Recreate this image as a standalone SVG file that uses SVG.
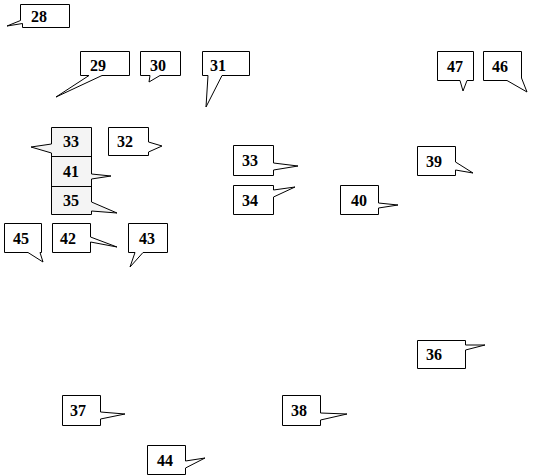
<svg xmlns="http://www.w3.org/2000/svg" width="533" height="476" viewBox="0 0 533 476">
<style>
.c{fill:#fff;stroke:#000;stroke-width:1;stroke-linejoin:miter}
.g{fill:#f4f4f4;stroke:#000;stroke-width:1}
.d{stroke:#000;stroke-width:1}
text{font-family:"Liberation Serif","Times New Roman",serif;font-weight:bold;font-size:16px;text-anchor:middle;fill:#000}
</style>
<rect width="533" height="476" fill="#fff"/>
<g id="connectors"></g>
<g id="n28"><polygon class="c" points="20.5,4.5 69.5,4.5 69.5,27.5 22.5,27.5 22.5,23.5 7,26 20.5,20.5"/><text x="39" y="21.5">28</text></g>
<g id="n29"><polygon class="c" points="80.5,51.5 129.5,51.5 129.5,75.5 102,75.5 56,97 89,75.5 80.5,75.5"/><text x="98" y="70.5">29</text></g>
<g id="n30"><polygon class="c" points="140.5,51.5 180.5,51.5 180.5,75.5 160,75.5 149,82 150,75.5 140.5,75.5"/><text x="158" y="70.5">30</text></g>
<g id="n31"><polygon class="c" points="202.5,51.5 249.5,51.5 249.5,75.5 222,75.5 206,107 208,75.5 202.5,75.5"/><text x="218" y="70.5">31</text></g>
<g id="n47"><polygon class="c" points="437.5,51.5 473.5,51.5 473.5,80.5 467,80.5 463,91 460,80.5 437.5,80.5"/><text x="455" y="71.5">47</text></g>
<g id="n46"><polygon class="c" points="483.5,51.5 521.5,51.5 521.5,78 527,92 507,80.5 483.5,80.5"/><text x="500" y="71.5">46</text></g>
<g id="stack">
<polygon class="g" points="51.5,127.5 91.5,127.5 91.5,174 111,176 91.5,179 91.5,202 117,213 91.5,211 91.5,214.5 51.5,214.5 51.5,153 31,147 51.5,144"/>
<line class="d" x1="51.5" y1="156.5" x2="91.5" y2="156.5"/>
<line class="d" x1="51.5" y1="186.5" x2="91.5" y2="186.5"/>
<g id="n33a"><text x="71" y="147">33</text></g>
<g id="n41"><text x="71" y="177">41</text></g>
<g id="n35"><text x="71" y="206">35</text></g>
</g>
<g id="n32"><polygon class="c" points="108.5,127.5 148.5,127.5 148.5,142 162,146 148.5,152 148.5,155.5 108.5,155.5"/><text x="125" y="147">32</text></g>
<g id="n33b"><polygon class="c" points="233.5,145.5 273.5,145.5 273.5,163 298,166 273.5,170 273.5,175.5 233.5,175.5"/><text x="250" y="166">33</text></g>
<g id="n34"><polygon class="c" points="233.5,185.5 273.5,185.5 273.5,190 295,187 273.5,197 273.5,214.5 233.5,214.5"/><text x="250" y="206">34</text></g>
<g id="n40"><polygon class="c" points="340.5,185.5 378.5,185.5 378.5,203 398,205 378.5,208 378.5,214.5 340.5,214.5"/><text x="359" y="206">40</text></g>
<g id="n39"><polygon class="c" points="417.5,146.5 455.5,146.5 455.5,162 473,173 455.5,170 455.5,175.5 417.5,175.5"/><text x="434" y="167">39</text></g>
<g id="n45"><polygon class="c" points="4.5,223.5 41.5,223.5 41.5,252.5 40,252.5 43,262 28,252.5 4.5,252.5"/><text x="21" y="244">45</text></g>
<g id="n42"><polygon class="c" points="52.5,223.5 90.5,223.5 90.5,237 117,247 90.5,242 90.5,252.5 52.5,252.5"/><text x="68" y="244">42</text></g>
<g id="n43"><polygon class="c" points="128.5,223.5 167.5,223.5 167.5,252.5 143,252.5 130,267 135,252.5 128.5,252.5"/><text x="147" y="244">43</text></g>
<g id="n36"><polygon class="c" points="417.5,340.5 465.5,340.5 465.5,345 485,345 465.5,350 465.5,368.5 417.5,368.5"/><text x="434" y="360">36</text></g>
<g id="n37"><polygon class="c" points="62.5,395.5 100.5,395.5 100.5,412 125,414 100.5,419 100.5,425.5 62.5,425.5"/><text x="78" y="416">37</text></g>
<g id="n38"><polygon class="c" points="282.5,395.5 320.5,395.5 320.5,413 347,414 320.5,420 320.5,425.5 282.5,425.5"/><text x="299" y="416">38</text></g>
<g id="n44"><polygon class="c" points="147.5,445.5 185.5,445.5 185.5,461 205,458 185.5,468 185.5,474.5 147.5,474.5"/><text x="165" y="466">44</text></g>
</svg>
